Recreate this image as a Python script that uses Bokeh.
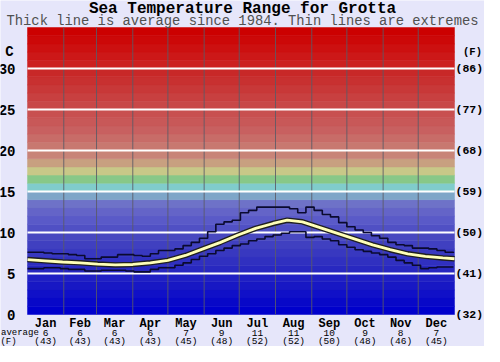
from bokeh.plotting import figure
from bokeh.models import Range1d
from bokeh.core.properties import value
from bokeh.embed import file_html
from bokeh.resources import INLINE

# ---------------- data ----------------
months = ["Jan", "Feb", "Mar", "Apr", "May", "Jun",
          "Jul", "Aug", "Sep", "Oct", "Nov", "Dec"]
month_start = [0, 31, 59, 90, 120, 151, 181, 212, 243, 273, 304, 334, 365]
month_avg_c = [6, 6, 6, 6, 7, 9, 11, 11, 10, 9, 8, 7]
month_avg_f = [43, 43, 43, 43, 45, 48, 52, 52, 50, 48, 46, 45]

c_ticks = [0, 5, 10, 15, 20, 25, 30]
f_tick_labels = ["(32)", "(41)", "(50)", "(59)", "(68)", "(77)", "(86)"]

avg_day = [0, 15, 30, 45, 60, 75, 90, 105, 120, 135, 150, 165, 180, 195,
           210, 222, 235, 250, 265, 280, 295, 310, 325, 340, 355, 365]
avg_temp = [6.7, 6.55, 6.4, 6.3, 6.15, 6.05, 6.1, 6.3, 6.6, 7.2, 8.0, 8.8, 9.7, 10.5,
            11.1, 11.5, 11.3, 10.6, 9.9, 9.2, 8.5, 7.9, 7.4, 7.1, 6.9, 6.8]

ext_day = [0, 7, 14, 21, 28, 35, 42, 49, 56, 63, 70, 77, 84, 91, 98, 105, 112, 119,
           126, 133, 140, 147, 154, 161, 168, 175, 182, 189, 196, 203, 210, 217, 224,
           231, 238, 245, 252, 259, 266, 273, 280, 287, 294, 301, 308, 315, 322, 329,
           336, 343, 350, 357, 364]
upper = [7.6, 7.6, 7.5, 7.4, 7.4, 7.3, 7.2, 6.8, 6.8, 7.0, 7.0, 7.3, 7.3, 7.2, 7.1, 7.4,
         7.8, 7.8, 8.0, 8.4, 8.8, 9.3, 10.1, 11.0, 11.3, 11.5, 12.4, 12.7, 13.1, 13.1,
         13.1, 13.1, 12.9, 12.4, 13.1, 12.7, 12.2, 11.9, 11.2, 10.7, 10.3, 10.0, 9.6,
         9.3, 8.8, 8.5, 8.4, 8.1, 8.1, 8.0, 7.8, 7.6, 7.5]
lower = [5.6, 5.6, 5.7, 5.7, 5.6, 5.5, 5.5, 5.3, 5.3, 5.4, 5.4, 5.4, 5.3, 5.2, 5.2, 5.5,
         5.7, 5.7, 6.0, 6.3, 6.7, 7.1, 7.4, 7.8, 8.1, 8.4, 8.6, 9.0, 9.2, 9.5, 9.7, 9.9,
         10.1, 10.1, 9.4, 9.5, 9.2, 9.0, 8.5, 8.2, 7.9, 7.7, 7.5, 7.3, 7.0, 6.6, 6.3,
         6.0, 5.6, 5.7, 5.8, 5.8, 5.8]

band_bottom = list(range(0, 35))

# ---------------- style ----------------
band_colors = ["#0000cc", "#0808c8", "#1010c8", "#1818c4", "#2020c4", "#2828c0",
               "#3030c0", "#3838c0", "#4040c0", "#4848c0", "#5050c4", "#5a5ac8",
               "#6464c8", "#6e72c8", "#7ea6c8", "#80cccc", "#88c888", "#c8c888",
               "#c8a080", "#c88478", "#c87870", "#c86c68", "#c86060", "#c85858",
               "#c85050", "#c84848", "#c84040", "#c83838", "#c83030", "#c82828",
               "#cc2020", "#cc1818", "#cc1010", "#cc0808", "#cc0000"]
BG = "#e6e6fa"
MONO = value("Liberation Mono")

# page layout (page pixels): figure spans 8..492 x 8..354
W, H = 484, 346
PX0, PX1 = 35, 462      # page x of day 0 and day 365
PY0, PY1 = 322, 35      # page y of 0 C and 35 C
X0, X1, Y0, Y1 = 0, 365, 0, 35
sx = (PX1 - PX0) / (X1 - X0)
sy = (PY0 - PY1) / (Y1 - Y0)


def dx(px):
    return X0 + (px - PX0) / sx


def dy(py):
    return Y0 + (PY0 - py) / sy


p = figure(width=W, height=H, output_backend="svg", toolbar_location=None,
           x_range=Range1d(dx(8), dx(8 + W)), y_range=Range1d(dy(8 + H), dy(8)),
           x_axis_location=None, y_axis_location=None,
           min_border=0)
p.background_fill_color = BG
p.border_fill_color = BG
p.outline_line_color = None
p.grid.visible = False

# background bands
p.quad(left=X0, right=X1, bottom=band_bottom, top=[b + 1 for b in band_bottom],
       fill_color=band_colors, line_color=band_colors, line_width=0.5)

# month separators
p.segment(x0=month_start[1:-1], x1=month_start[1:-1], y0=Y0, y1=Y1,
          line_color="#5a5a66", line_width=1, line_alpha=0.85)

# horizontal white lines
p.segment(x0=X0, x1=X1, y0=c_ticks[1:], y1=c_ticks[1:], line_color="white", line_width=2)

# extremes
p.step(ext_day, upper, mode="after", line_color="#0a0a30", line_width=1.6)
p.step(ext_day, lower, mode="after", line_color="#0a0a30", line_width=1.6)

# average
p.line(avg_day, avg_temp, line_color="#202020", line_width=5.5)
p.line(avg_day, avg_temp, line_color="#ffffb8", line_width=2.8)


def txt(x, y, text, size, style="bold", align="center", color="black"):
    p.text(x=x, y=y, text=text, text_font=MONO, text_font_size=f"{size}px",
           text_font_style=style, text_align=align, text_baseline="middle",
           text_color=color)


# titles
txt([dx(250)], [dy(16)], ["Sea Temperature Range for Grotta"], 16)
txt([dx(250)], [dy(28.5)], ["Thick line is average since 1984. Thin lines are extremes"], 13.8,
    style="normal", color="#505050")

# left / right axis labels
txt([dx(23)] * len(c_ticks), c_ticks, [str(c) for c in c_ticks], 14, align="right")
txt([dx(463)] * len(c_ticks), c_ticks, f_tick_labels, 11.5, align="left")
txt([dx(17)], [32], ["C"], 14)
txt([dx(480)], [32], ["(F)"], 10.5)

# month labels + averages
mids = [(month_start[i] + month_start[i + 1]) / 2 for i in range(12)]
txt(mids, [dy(331)] * 12, months, 12)
txt(mids, [dy(340.5)] * 12, [str(v) for v in month_avg_c], 9.5, style="normal")
txt(mids, [dy(349.3)] * 12, [f"({v})" for v in month_avg_f], 9.5, style="normal")
txt([dx(8.5)], [dy(340.5)], ["average"], 9, style="normal", align="left")
txt([dx(16)], [dy(349.3)], ["(F)"], 9, style="normal")

open("out.html", "w").write(file_html(p, INLINE))
